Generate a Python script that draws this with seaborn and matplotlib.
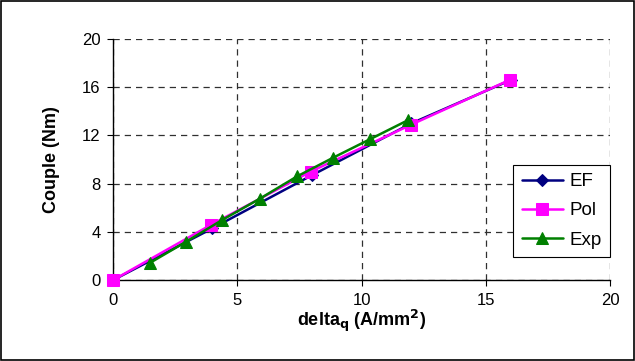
import matplotlib
matplotlib.use("Agg")
import matplotlib.pyplot as plt
import seaborn as sns
import pandas as pd
from matplotlib.patches import Rectangle

# values
ef_x = [0, 4.0, 8.0, 12.0, 16.0]
ef_y = [0, 4.3, 8.7, 13.0, 16.6]
pol_x = [0, 3.95, 7.95, 12.0, 15.95]
pol_y = [0, 4.6, 9.0, 12.9, 16.6]
exp_x = [1.5, 2.95, 4.4, 5.9, 7.4, 8.85, 10.35, 11.85]
exp_y = [1.45, 3.2, 5.0, 6.75, 8.6, 10.15, 11.7, 13.25]

x_ticks = [0, 5, 10, 15, 20]
y_ticks = [0, 4, 8, 12, 16, 20]

sns.set_theme(style="white")
plt.rcParams['font.family'] = ['Liberation Sans', 'DejaVu Sans']
plt.rcParams['text.color'] = 'black'
plt.rcParams['axes.labelcolor'] = 'black'
plt.rcParams['xtick.color'] = 'black'
plt.rcParams['ytick.color'] = 'black'

fig = plt.figure(figsize=(6.35, 3.61), dpi=100)
ax = fig.add_axes([0.178, 0.224, 0.783, 0.668])

series = [
    ("EF", ef_x, ef_y, "#000080", "D", 6),
    ("Pol", pol_x, pol_y, "#FF00FF", "s", 8),
    ("Exp", exp_x, exp_y, "#008000", "^", 9),
]
for name, xs, ys, col, mk, ms in series:
    df = pd.DataFrame({"x": xs, "y": ys})
    sns.lineplot(data=df, x="x", y="y", ax=ax, color=col, marker=mk,
                 markersize=ms, markeredgecolor=col, linewidth=1.8, label=name,
                 clip_on=False, zorder=3)

ax.set_xlim(0, 20)
ax.set_ylim(0, 20)
ax.set_xticks(x_ticks)
ax.set_yticks(y_ticks)
ax.grid(True, color="#303030", linestyle=(0, (5, 4)), linewidth=0.9)
ax.tick_params(axis="both", labelsize=12, length=4, width=0.8,
               direction="out", bottom=True, left=True, pad=5)
for s in ["top", "right"]:
    ax.spines[s].set_visible(False)
for s in ["left", "bottom"]:
    ax.spines[s].set_color("black")
    ax.spines[s].set_linewidth(1.0)

ax.set_xlabel("delta$_\\mathbf{q}$ (A/mm$^\\mathbf{2}$)", fontsize=13, fontweight="bold", labelpad=0)
ax.set_ylabel("Couple (Nm)", fontsize=13, fontweight="bold", labelpad=16)

leg = ax.legend(loc="lower right", bbox_to_anchor=(1.0, 0.095), fontsize=13.5,
                frameon=True, fancybox=False, framealpha=1, edgecolor="black",
                handlelength=2.2, borderpad=0.45, labelspacing=0.65, handletextpad=0.35,
                borderaxespad=0)
leg.get_frame().set_linewidth(0.8)

fig.patches.append(Rectangle((0.002, 0.002), 0.996, 0.994, transform=fig.transFigure,
                             fill=False, edgecolor="black", linewidth=1.2))

fig.savefig("out.png", dpi=100)
